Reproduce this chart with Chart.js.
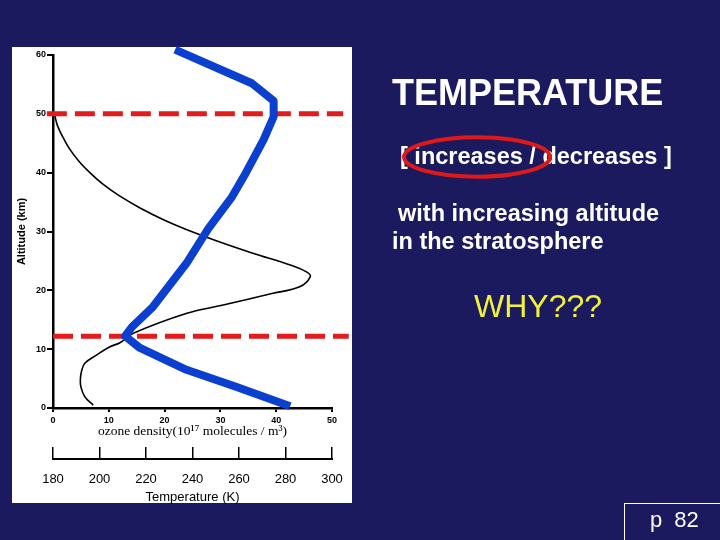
<!DOCTYPE html>
<html><head><meta charset="utf-8">
<script src="https://cdn.jsdelivr.net/npm/chart.js@4.4.1/dist/chart.umd.min.js"></script>
<style>
html,body{margin:0;padding:0;}
body{width:720px;height:540px;background:#1b1a5e;position:relative;overflow:hidden;font-family:'Liberation Sans',Arial,sans-serif;}
#panel{position:absolute;left:12px;top:47px;width:340px;height:456px;background:#fff;}
#c{position:absolute;left:0;top:0;}
.t{position:absolute;color:#fff;line-height:1;white-space:pre;font-weight:bold;}
#page{position:absolute;left:624px;top:503px;width:120px;height:60px;border:1px solid #fff;}
</style></head>
<body>
<div id="panel"></div>
<canvas id="c" width="720" height="540"></canvas>
<div class="t" style="left:392px;top:75px;font-size:36px;">TEMPERATURE</div>
<div class="t" style="left:400px;top:145px;font-size:23.5px;">[ increases / decreases ]</div>
<div class="t" style="left:398px;top:202px;font-size:23.5px;">with increasing altitude</div>
<div class="t" style="left:392px;top:230px;font-size:23.5px;">in the stratosphere</div>
<div class="t" style="left:474px;top:290px;font-size:32px;font-weight:normal;color:#f2f23a;">WHY???</div>
<div id="page"></div>
<div class="t" style="left:650px;top:509px;font-size:22px;font-weight:normal;word-spacing:6px;">p 82</div>
<svg style="position:absolute;left:0;top:0;" width="720" height="540"><ellipse cx="477" cy="157" rx="73" ry="19.7" fill="none" stroke="#e01818" stroke-width="4"/></svg>
<script>
// ---- data ----
const altitudeTicks = [0, 10, 20, 30, 40, 50, 60];
const ozoneTicks = [0, 10, 20, 30, 40, 50];
const temperatureTicks = [180, 200, 220, 240, 260, 280, 300];

// ozone density profile (10^17 molecules / m^3) vs altitude (km)
const ozoneAltitude = [0.5, 1.9, 3.6, 4.8, 6.2, 7.6, 9.0, 10.4, 11.1, 12.7, 16.1, 17.5, 19.5, 20.6, 22.3, 23.1, 24.3, 26.3, 28.2, 30.3, 32.0, 34.0, 36.0, 38.0, 40.0, 42.0, 44.0, 46.0, 48.0, 49.8];
const ozoneDensity  = [7.2, 5.7, 5.0, 4.9, 5.1, 5.7, 7.8, 10.2, 12.0, 14.4, 24.0, 30.5, 39.4, 44.2, 46.1, 45.5, 42.5, 35.8, 29.9, 24.0, 19.8, 15.6, 12.0, 9.0, 6.6, 4.6, 3.0, 1.8, 0.8, 0.3];

// temperature profile (K) vs altitude (km)
const tempAltitude = [0.3, 3.6, 6.5, 10.2, 12.2, 13.8, 17.2, 24.6, 30.5, 35.9, 40.0, 45.6, 49.5, 52.2, 55.2, 60.9];
const temperature  = [282, 258.7, 237.4, 217.4, 211, 214, 223, 237.4, 246.8, 257, 263, 270.6, 274.9, 274.9, 265.5, 232.5];

// boundary lines (tropopause / stratopause), altitude km, extent in ozone-axis units
const boundaryAltitude = [50, 12.2];
const boundaryFrom = [-1.1, 0];
const boundaryTo = [52.0, 53.0];

// ---- build ----
const pts = (xs, ys) => xs.map((x, i) => ({x: x, y: ys[i]}));
const fixTicks = arr => scale => { scale.ticks = arr.map(v => ({value: v})); };

const datasets = [
  {
    label: 'Temperature', xAxisID: 't', yAxisID: 'y',
    data: pts(temperature, tempAltitude),
    borderColor: '#0b3fcf', borderWidth: 8, pointRadius: 0, tension: 0,
    borderJoinStyle: 'round', borderCapStyle: 'butt', clip: false, fill: false
  }
];
boundaryAltitude.forEach((a, i) => datasets.push({
  label: 'boundary' + i, xAxisID: 'x', yAxisID: 'y',
  data: [{x: boundaryFrom[i], y: a}, {x: boundaryTo[i], y: a}],
  borderColor: '#e31b1b', borderWidth: 5, borderDash: [20, 8], pointRadius: 0,
  clip: false, fill: false
}));
datasets.push({
  label: 'Ozone', xAxisID: 'x', yAxisID: 'y',
  data: pts(ozoneDensity, ozoneAltitude),
  borderColor: '#000', borderWidth: 1.6, pointRadius: 0, tension: 0.4,
  cubicInterpolationMode: 'default', fill: false
});

const tempLine = {
  id: 'tempLine',
  afterDraw(chart) {
    const s = chart.scales.t, ctx = chart.ctx;
    const y = s.top + 12;
    ctx.save();
    ctx.strokeStyle = '#000'; ctx.lineWidth = 2;
    ctx.beginPath();
    ctx.moveTo(s.getPixelForValue(temperatureTicks[0]) - 1, y);
    ctx.lineTo(s.getPixelForValue(temperatureTicks[temperatureTicks.length - 1]) + 1, y);
    ctx.stroke();
    ctx.restore();
  }
};

new Chart(document.getElementById('c'), {
  type: 'line',
  data: {datasets},
  plugins: [tempLine],
  options: {
    responsive: false, animation: false, devicePixelRatio: 1,
    layout: {padding: {left: 12, top: 55, right: 388, bottom: 35}},
    plugins: {legend: {display: false}, tooltip: {enabled: false}},
    scales: {
      y: {
        type: 'linear', position: 'left',
        min: altitudeTicks[0], max: altitudeTicks[altitudeTicks.length - 1],
        afterBuildTicks: fixTicks(altitudeTicks),
        afterFit: s => { s.width = 41; },
        grid: {drawOnChartArea: false, tickLength: 6, lineWidth: 2, color: '#000'},
        border: {color: '#000', width: 2.5},
        ticks: {color: '#000', padding: 1, font: {size: 9, weight: 'bold', family: "'Liberation Sans', Arial"}},
        title: {display: true, text: 'Altitude (km)', color: '#000', padding: {top: 3.5, bottom: 0},
                font: {size: 11, weight: 'bold', family: "'Liberation Sans', Arial"}}
      },
      x: {
        type: 'linear', position: 'bottom', weight: 0,
        min: ozoneTicks[0], max: ozoneTicks[ozoneTicks.length - 1],
        afterBuildTicks: fixTicks(ozoneTicks),
        afterFit: s => { s.height = 39; },
        grid: {drawOnChartArea: false, tickLength: 4, lineWidth: 2, color: '#000'},
        border: {color: '#000', width: 2.5},
        ticks: {color: '#000', padding: 3, autoSkip: false, maxRotation: 0,
                font: {size: 9, weight: 'bold', family: "'Liberation Sans', Arial"}},
        title: {display: true, text: 'ozone density(10\u00b9\u2077 molecules / m\u00b3)', color: '#000',
                padding: {top: 0, bottom: 7.5},
                font: {size: 13.5, family: "'Liberation Serif', 'DejaVu Serif', serif"}}
      },
      t: {
        type: 'linear', position: 'bottom', weight: 1,
        min: temperatureTicks[0], max: temperatureTicks[temperatureTicks.length - 1],
        afterBuildTicks: fixTicks(temperatureTicks),
        afterFit: s => { s.height = 58; },
        grid: {drawOnChartArea: false, tickLength: 12, lineWidth: 1.5, color: '#000'},
        border: {display: false},
        ticks: {color: '#000', padding: 13, autoSkip: false, maxRotation: 0,
                font: {size: 13, family: "'Liberation Sans', Arial"}},
        title: {display: true, text: 'Temperature (K)', color: '#000', padding: {top: 0, bottom: 0},
                font: {size: 13, family: "'Liberation Sans', Arial"}}
      }
    }
  }
});
</script>
</body></html>
